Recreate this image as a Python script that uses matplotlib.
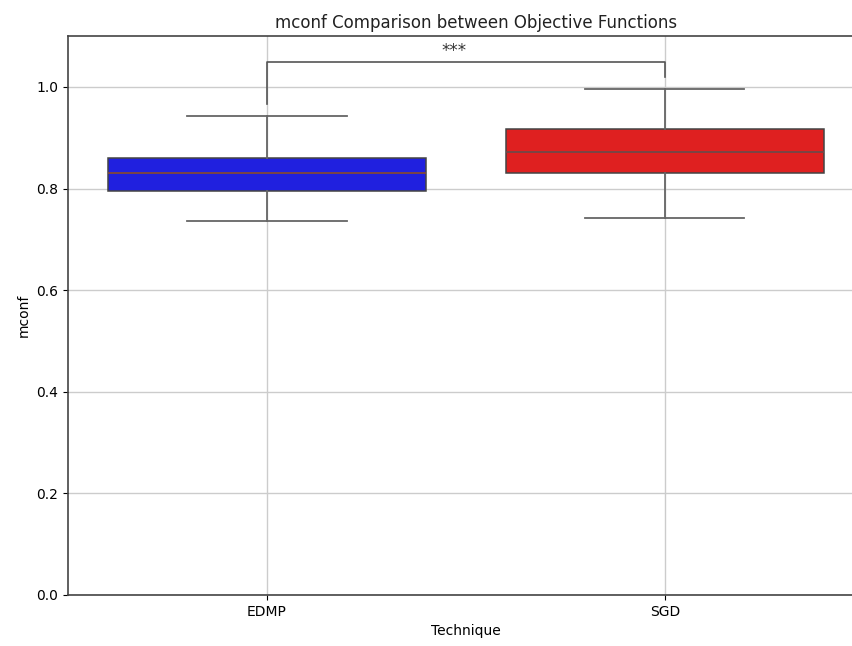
import matplotlib.pyplot as plt

# ---------------- data ----------------
techniques = ['EDMP', 'SGD']
med = [0.830, 0.872]
q1 = [0.795, 0.830]
q3 = [0.860, 0.917]
whislo = [0.737, 0.742]
whishi = [0.942, 0.996]
colors = ['#2020df', '#df2020']

sig_label = '***'
bracket_y = 1.049
bracket_legs = [0.966, 1.02]

# ---------------- figure ----------------
fig = plt.figure(figsize=(8.53, 6.46), dpi=100)
ax = fig.add_axes([0.0797, 0.079, 0.933, 0.865])

stats = []
for i, name in enumerate(techniques):
    stats.append(dict(label=name, med=med[i], q1=q1[i], q3=q3[i],
                      whislo=whislo[i], whishi=whishi[i], fliers=[]))

line_col = '#666666'
bp = ax.bxp(stats, positions=range(len(techniques)), widths=0.8, capwidths=0.4,
            patch_artist=True, showfliers=False,
            boxprops=dict(edgecolor='#444444', linewidth=1.1),
            medianprops=dict(color='#7a4444', linewidth=1.4),
            whiskerprops=dict(color=line_col, linewidth=1.3),
            capprops=dict(color=line_col, linewidth=1.3))
for patch, c in zip(bp['boxes'], colors):
    patch.set_facecolor(c)

# significance bracket
ax.plot([0, 0, 1, 1], [bracket_legs[0], bracket_y, bracket_y, bracket_legs[1]],
        color='#555555', linewidth=1.2)
ax.text(0.47, bracket_y + 0.004, sig_label, ha='center', va='bottom',
        fontsize=12, color='#333333')

# -------------- axes setup --------------
ax.set_xlim(-0.5, 1.5)
ax.set_ylim(0, 1.1)
ax.set_yticks([0.0, 0.2, 0.4, 0.6, 0.8, 1.0])
ax.grid(True, color='#cccccc', linewidth=1.0)
ax.set_axisbelow(True)
for s in ax.spines.values():
    s.set_color('#444444')
    s.set_linewidth(1.2)
ax.tick_params(labelsize=10)
ax.set_xlabel('Technique', fontsize=10)
ax.set_ylabel('mconf', fontsize=10)
ax.set_title('mconf Comparison between Objective Functions', fontsize=12,
             pad=6, x=0.513, color='#222222')

fig.savefig('out.png', dpi=100)
